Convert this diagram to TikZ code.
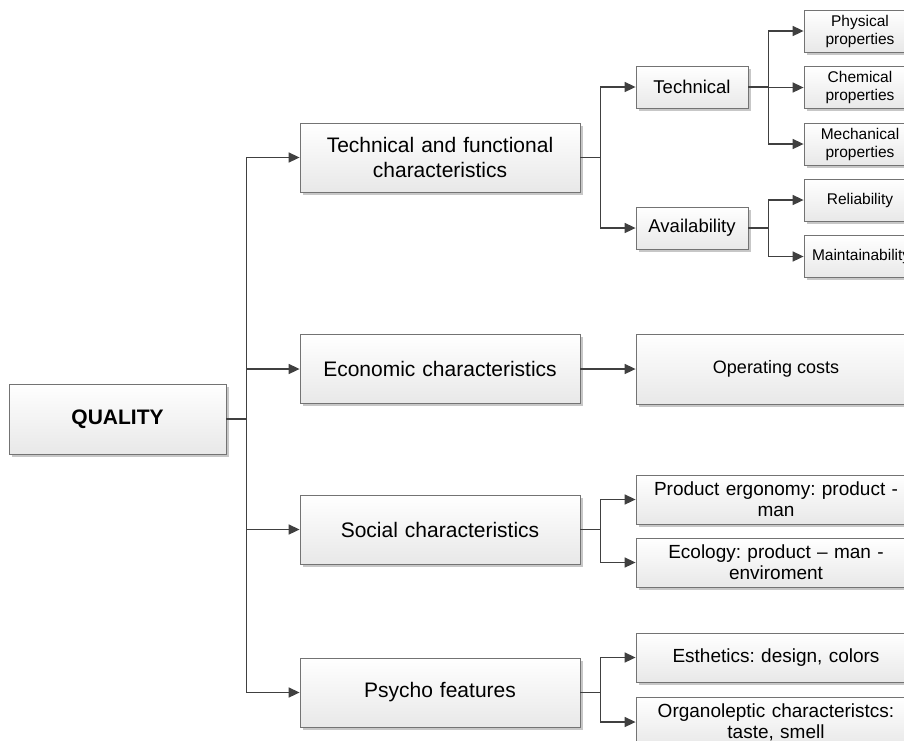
\documentclass[tikz,border=0pt]{standalone}
\usepackage{fontspec}
\setmainfont{Liberation Sans}
\usetikzlibrary{arrows.meta,shadows}
\begin{document}
\frenchspacing
\begin{tikzpicture}[x=1pt,y=-1pt,
  box/.style={draw=black!55, line width=0.8pt, top color=white, bottom color=black!9,
    drop shadow={shadow xshift=2.5pt, shadow yshift=-2.5pt, fill=black!22, opacity=1},
    align=center, inner sep=2pt, anchor=center},
  bigbox/.style={box, minimum width=280pt, minimum height=69pt, text width=270pt, font=\fontsize{21}{25}\selectfont},
  midbox/.style={box, minimum width=112pt, minimum height=42pt, font=\fontsize{18.5}{22}\selectfont},
  smallbox/.style={box, minimum width=112pt, minimum height=42pt, text width=104pt, font=\fontsize{15.5}{18}\selectfont},
  widebox/.style={box, minimum width=280pt, minimum height=49pt, text width=272pt, font=\fontsize{19}{21}\selectfont},
  conn/.style={draw=black!75, line width=1.6pt},
  arr/.style={conn, -{Triangle[length=11pt,width=10pt]}}]
\useasboundingbox (0,0) rectangle (904,740);
\clip (0,0) rectangle (904,740);

\node[box, minimum width=217pt, minimum height=70pt, font=\bfseries\fontsize{21}{25}\selectfont] (q) at (117.5,419) {QUALITY};

\node[bigbox] (tf) at (440,157.5) {Technical and functional\\characteristics};
\node[bigbox] (ec) at (440,369) {Economic characteristics};
\node[bigbox] (so) at (440,529.5) {Social characteristics};
\node[bigbox] (ps) at (440,692.5) {Psycho features};

\node[midbox] (te) at (692,87) {Technical};
\node[midbox] (av) at (692,228) {Availability};

\node[smallbox] (ph) at (860,31) {Physical\\properties};
\node[smallbox] (ch) at (860,87.5) {Chemical\\properties};
\node[smallbox] (me) at (860,144) {Mechanical\\properties};
\node[smallbox] (re) at (860,200) {Reliability};
\node[smallbox, text width=96pt, align=left, inner xsep=8pt] (ma) at (860,256.5) {Maintainability};

\node[box, minimum width=280pt, minimum height=70pt, font=\fontsize{18}{22}\selectfont] (oc) at (776,369) {Operating costs};

\node[widebox] (pe) at (776,499.5) {Product ergonomy: product -\\man};
\node[widebox] (eco) at (776,562.5) {Ecology: product -- man -\\enviroment};
\node[widebox] (es) at (776,657.5) {Esthetics: design, colors};
\node[widebox] (or) at (776,722) {Organoleptic characteristcs:\\taste, smell};

% connectors
\path (q.east) ++(20,0) coordinate (qj);
\draw[conn] (q.east) -- (qj);
\draw[arr] (qj) |- (tf.west);
\draw[arr] (qj) |- (ec.west);
\draw[arr] (qj) |- (so.west);
\draw[arr] (qj) |- (ps.west);

\path (tf.east) ++(20,0) coordinate (tj);
\draw[conn] (tf.east) -- (tj);
\draw[arr] (tj) |- (te.west);
\draw[arr] (tj) |- (av.west);

\path (te.east) ++(20,0) coordinate (tej);
\draw[conn] (te.east) -- (tej);
\draw[arr] (tej) |- (ph.west);
\draw[arr] (tej) |- (ch.west);
\draw[arr] (tej) |- (me.west);

\path (av.east) ++(20,0) coordinate (avj);
\draw[conn] (av.east) -- (avj);
\draw[arr] (avj) |- (re.west);
\draw[arr] (avj) |- (ma.west);

\draw[arr] (ec.east) -- (oc.west);

\path (so.east) ++(20,0) coordinate (soj);
\draw[conn] (so.east) -- (soj);
\draw[arr] (soj) |- (pe.west);
\draw[arr] (soj) |- (eco.west);

\path (ps.east) ++(20,0) coordinate (psj);
\draw[conn] (ps.east) -- (psj);
\draw[arr] (psj) |- (es.west);
\draw[arr] (psj) |- (or.west);
\end{tikzpicture}
\end{document}
